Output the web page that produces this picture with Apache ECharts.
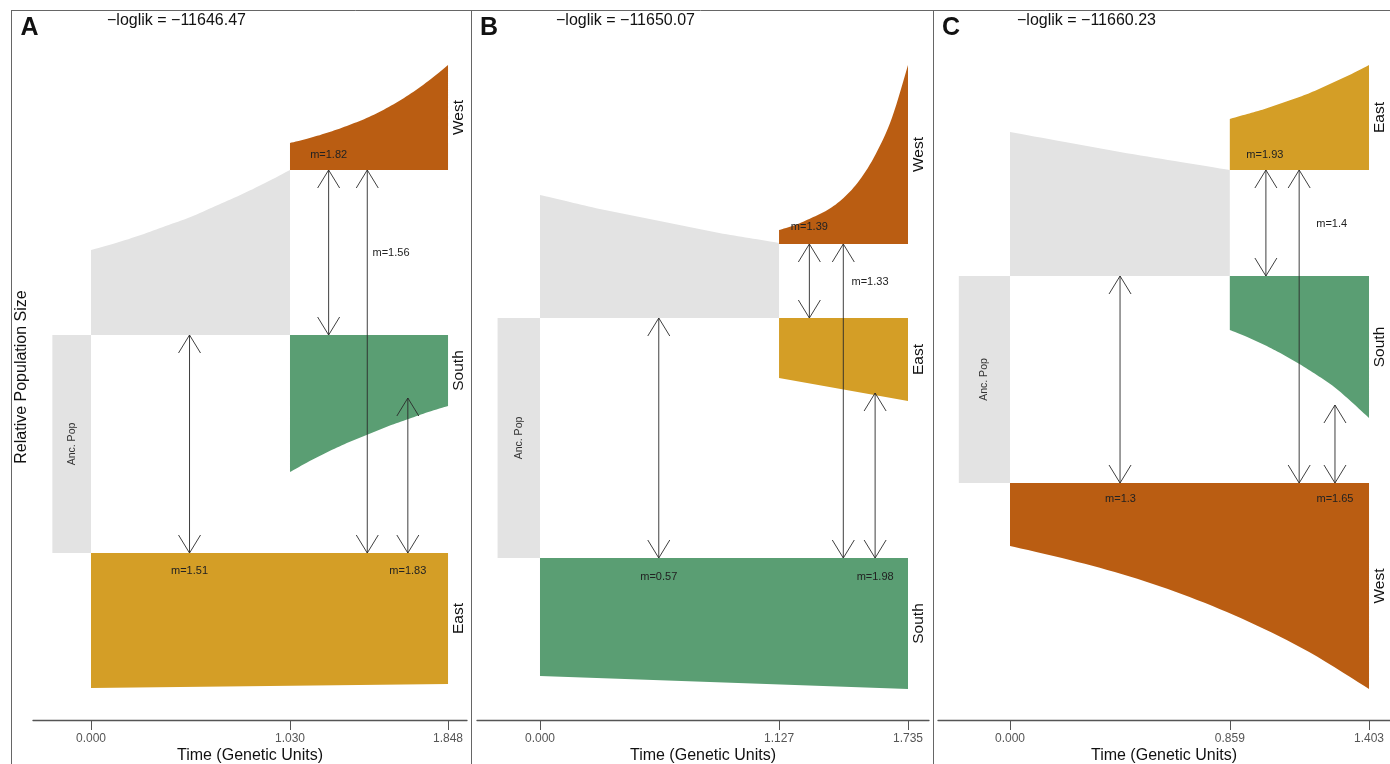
<!DOCTYPE html>
<html>
<head>
<meta charset="utf-8">
<script src="https://cdn.jsdelivr.net/npm/echarts@6/dist/echarts.min.js"></script>
<style>
html,body{margin:0;padding:0;background:#fff;}
#chart{width:1390px;height:764px;}
</style>
</head>
<body>
<div id="chart"></div>
<script>
// ---------------- DATA (time in genetic units, y in relative population size) ----------------
// each population: rows of [time, lower edge, upper edge]
const panelLetters = ['A', 'B', 'C'];
const logliks = [-11646.47, -11650.07, -11660.23];

const A_ticks = [0, 1.030, 1.848];
const B_ticks = [0, 1.127, 1.735];
const C_ticks = [0, 0.859, 1.403];

// Panel A
const A_names = ['Anc. Pop', '', 'West', 'South', 'East'];
const A_ancPop = [[-0.2, 1.67, 3.85], [0, 1.67, 3.85]];
const A_ancestral = [[0, 3.85, 4.70], [0.129, 3.85, 4.77], [0.258, 3.85, 4.85], [0.386, 3.85, 4.94], [0.515, 3.85, 5.03], [0.644, 3.85, 5.14], [0.773, 3.85, 5.25], [0.901, 3.85, 5.37], [1.030, 3.85, 5.50]];
const A_west = [[1.030, 5.50, 5.77], [1.132, 5.50, 5.82], [1.235, 5.50, 5.88], [1.337, 5.50, 5.95], [1.439, 5.50, 6.03], [1.541, 5.50, 6.13], [1.644, 5.50, 6.25], [1.746, 5.50, 6.39], [1.848, 5.50, 6.55]];
const A_south = [[1.030, 2.48, 3.85], [1.132, 2.59, 3.85], [1.235, 2.69, 3.85], [1.337, 2.78, 3.85], [1.439, 2.86, 3.85], [1.541, 2.94, 3.85], [1.644, 3.01, 3.85], [1.746, 3.08, 3.85], [1.848, 3.14, 3.85]];
const A_east = [[0, 0.32, 1.67], [1.848, 0.36, 1.67]];
// migration: [time, from, to, m]
const A_mig = [[0.51, 3.85, 1.67, 1.51], [1.23, 5.50, 3.85, 1.82], [1.43, 5.50, 1.67, 1.56], [1.64, 3.22, 1.67, 1.83]];
const A_migLabel = [[0.51, 1.49], [1.23, 5.65], [1.553, 4.67], [1.64, 1.49]];

// Panel B
const B_names = ['Anc. Pop', '', 'West', 'East', 'South'];
const B_ancPop = [[-0.2, 1.62, 4.02], [0, 1.62, 4.02]];
const B_ancestral = [[0, 4.02, 5.25], [0.141, 4.02, 5.18], [0.282, 4.02, 5.11], [0.423, 4.02, 5.05], [0.564, 4.02, 4.99], [0.704, 4.02, 4.93], [0.845, 4.02, 4.87], [0.986, 4.02, 4.82], [1.127, 4.02, 4.77]];
const B_west = [[1.127, 4.76, 4.90], [1.203, 4.76, 4.95], [1.279, 4.76, 5.02], [1.355, 4.76, 5.10], [1.431, 4.76, 5.22], [1.507, 4.76, 5.40], [1.583, 4.76, 5.66], [1.659, 4.76, 6.02], [1.735, 4.76, 6.55]];
const B_east = [[1.127, 3.42, 4.02], [1.735, 3.19, 4.02]];
const B_south = [[0, 0.44, 1.62], [1.735, 0.31, 1.62]];
const B_mig = [[1.27, 4.76, 4.02, 1.39], [1.43, 4.76, 1.62, 1.33], [0.56, 4.02, 1.62, 0.57], [1.58, 3.27, 1.62, 1.98]];
const B_migLabel = [[1.27, 4.93], [1.556, 4.38], [0.56, 1.43], [1.58, 1.43]];

// Panel C
const C_names = ['Anc. Pop', '', 'East', 'South', 'West'];
const C_ancPop = [[-0.2, 2.37, 4.44], [0, 2.37, 4.44]];
const C_ancestral = [[0, 4.44, 5.88], [0.215, 4.44, 5.78], [0.430, 4.44, 5.68], [0.644, 4.44, 5.59], [0.859, 4.44, 5.50]];
const C_east = [[0.859, 5.50, 6.01], [0.927, 5.50, 6.06], [0.995, 5.50, 6.11], [1.063, 5.50, 6.17], [1.131, 5.50, 6.23], [1.199, 5.50, 6.30], [1.267, 5.50, 6.38], [1.335, 5.50, 6.46], [1.403, 5.50, 6.55]];
const C_south = [[0.859, 3.90, 4.44], [0.927, 3.83, 4.44], [0.995, 3.75, 4.44], [1.063, 3.66, 4.44], [1.131, 3.56, 4.44], [1.199, 3.45, 4.44], [1.267, 3.33, 4.44], [1.335, 3.18, 4.44], [1.403, 3.02, 4.44]];
const C_west = [[0, 1.74, 2.37], [0.234, 1.60, 2.37], [0.468, 1.435, 2.37], [0.702, 1.23, 2.37], [0.935, 0.98, 2.37], [1.169, 0.68, 2.37], [1.403, 0.31, 2.37]];
const C_mig = [[1.00, 5.50, 4.44, 1.93], [1.13, 5.50, 2.37, 1.4], [0.43, 4.44, 2.37, 1.3], [1.27, 3.15, 2.37, 1.65]];
const C_migLabel = [[0.996, 5.65], [1.257, 4.96], [0.432, 2.21], [1.27, 2.21]];

// ---------------- LAYOUT / STYLE ----------------
const FONT = '"Liberation Sans", Arial, Helvetica, sans-serif';
const colorOf = { 'West': '#BA5D12', 'East': '#D49E26', 'South': '#5A9E73', 'Anc. Pop': '#E3E3E3', '': '#E3E3E3' };

const panels = [
  { pops: [A_ancPop, A_ancestral, A_west, A_south, A_east], names: A_names, mig: A_mig, migLabel: A_migLabel, ticks: A_ticks,
    grid: { left: 33, width: 434 }, xmin: -0.3002, xmax: 1.9462 },
  { pops: [B_ancPop, B_ancestral, B_west, B_east, B_south], names: B_names, mig: B_mig, migLabel: B_migLabel, ticks: B_ticks,
    grid: { left: 477, width: 452 }, xmin: -0.297, xmax: 1.834 },
  { pops: [C_ancPop, C_ancestral, C_east, C_south, C_west], names: C_names, mig: C_mig, migLabel: C_migLabel, ticks: C_ticks,
    grid: { left: 938, width: 452 }, xmin: -0.2814, xmax: 1.485 }
];

// Catmull-Rom smoothing of an edge (pixel space, rendering only)
function smoothEdge(pts) {
  if (pts.length < 3) return pts.slice();
  const out = [];
  const n = pts.length;
  for (let i = 0; i < n - 1; i++) {
    const p0 = pts[Math.max(i - 1, 0)], p1 = pts[i], p2 = pts[i + 1], p3 = pts[Math.min(i + 2, n - 1)];
    const steps = 8;
    for (let s = 0; s < steps; s++) {
      const t = s / steps, t2 = t * t, t3 = t2 * t;
      out.push([0, 1].map(k => 0.5 * ((2 * p1[k]) + (-p0[k] + p2[k]) * t +
        (2 * p0[k] - 5 * p1[k] + 4 * p2[k] - p3[k]) * t2 + (-p0[k] + 3 * p1[k] - 3 * p2[k] + p3[k]) * t3)));
    }
  }
  out.push(pts[n - 1]);
  return out;
}

function arrowHead(tip, from, len, hw) {
  const dx = tip[0] - from[0], dy = tip[1] - from[1];
  const L = Math.hypot(dx, dy) || 1;
  const ux = dx / L, uy = dy / L, nx = -uy, ny = ux;
  return [[tip[0] - ux * len + nx * hw, tip[1] - uy * len + ny * hw], tip,
          [tip[0] - ux * len - nx * hw, tip[1] - uy * len - ny * hw]];
}

const grids = [], xAxes = [], yAxes = [], series = [];
panels.forEach((p, i) => {
  grids.push({ left: p.grid.left, width: p.grid.width, top: 10, height: 710, containLabel: false, outerBoundsMode: 'none' });
  xAxes.push({
    gridIndex: i, type: 'value', min: p.xmin, max: p.xmax,
    axisLine: { onZero: false, lineStyle: { color: '#555', width: 1.3 } },
    axisTick: { customValues: p.ticks, length: 10, lineStyle: { color: '#555', width: 1 } },
    axisLabel: { customValues: p.ticks, formatter: v => Number(v).toFixed(3), color: '#555', fontSize: 12, margin: 13, fontFamily: FONT },
    splitLine: { show: false },
    name: 'Time (Genetic Units)', nameLocation: 'middle', nameGap: 28, nameMoveOverlap: false,
    nameTextStyle: { fontSize: 16, color: '#111', fontFamily: FONT }
  });
  yAxes.push({ gridIndex: i, type: 'value', min: 0, max: 7.1, show: false });

  series.push({
    type: 'custom', xAxisIndex: i, yAxisIndex: i, silent: true,
    data: p.pops.map(rows => [rows[0][0], rows[0][1]]),
    renderItem: function (params, api) {
      const rows = p.pops[params.dataIndex];
      const name = p.names[params.dataIndex];
      const top = smoothEdge(rows.map(r => api.coord([r[0], r[2]])));
      const bot = smoothEdge(rows.map(r => api.coord([r[0], r[1]])));
      const pts = top.concat(bot.reverse());
      const children = [{ type: 'polygon', shape: { points: pts }, style: { fill: colorOf[name] } }];
      const last = rows[rows.length - 1], first = rows[0];
      if (name === 'Anc. Pop') {
        const c = api.coord([(first[0] + last[0]) / 2, (first[1] + first[2]) / 2]);
        children.push({ type: 'text', x: c[0], y: c[1], rotation: Math.PI / 2,
          style: { text: name, fill: '#333', font: '10.5px ' + FONT, align: 'center', verticalAlign: 'middle' } });
      } else if (name) {
        const c = api.coord([last[0], (last[1] + last[2]) / 2]);
        children.push({ type: 'text', x: c[0] + 11, y: c[1], rotation: Math.PI / 2,
          style: { text: name, fill: '#111', font: '15.5px ' + FONT, align: 'center', verticalAlign: 'middle' } });
      }
      return { type: 'group', children };
    }
  });

  series.push({
    type: 'custom', xAxisIndex: i, yAxisIndex: i, silent: true, z: 5,
    data: p.mig.map(m => [m[0], m[1]]),
    renderItem: function (params, api) {
      const m = p.mig[params.dataIndex];
      const lab = p.migLabel[params.dataIndex];
      const a = api.coord([m[0], m[1]]), b = api.coord([m[0], m[2]]);
      const st = { stroke: '#2a2a2a', lineWidth: 1, fill: null, opacity: 0.9 };
      const lp = api.coord([lab[0], lab[1]]);
      return { type: 'group', children: [
        { type: 'line', shape: { x1: a[0], y1: a[1], x2: b[0], y2: b[1] }, style: st },
        { type: 'polyline', shape: { points: arrowHead(a, b, 18, 11) }, style: st },
        { type: 'polyline', shape: { points: arrowHead(b, a, 18, 11) }, style: st },
        { type: 'text', x: lp[0], y: lp[1],
          style: { text: 'm=' + m[3], fill: '#222', font: '11px ' + FONT, align: 'center', verticalAlign: 'middle' } }
      ] };
    }
  });
});

const letterX = [29.5, 489, 951];
const loglikX = [107, 556, 1017];
const graphics = [
  { type: 'line', shape: { x1: 11, y1: 10.5, x2: 1390, y2: 10.5 }, style: { stroke: '#666', lineWidth: 1 } },
  { type: 'line', shape: { x1: 11.5, y1: 10, x2: 11.5, y2: 764 }, style: { stroke: '#666', lineWidth: 1 } },
  { type: 'line', shape: { x1: 471.5, y1: 10, x2: 471.5, y2: 764 }, style: { stroke: '#666', lineWidth: 1 } },
  { type: 'line', shape: { x1: 933.5, y1: 10, x2: 933.5, y2: 764 }, style: { stroke: '#666', lineWidth: 1 } },
  { type: 'text', x: 22, y: 377, rotation: Math.PI / 2,
    style: { text: 'Relative Population Size', fill: '#111', font: '16px ' + FONT, textAlign: 'center', textVerticalAlign: 'middle', align: 'center', verticalAlign: 'middle' } }
];
panelLetters.forEach((L, i) => {
  graphics.push({ type: 'text', x: letterX[i], y: 28,
    style: { text: L, fill: '#111', fontFamily: 'Liberation Sans', fontWeight: 'bold', fontSize: 25, textAlign: 'center', textVerticalAlign: 'middle', align: 'center', verticalAlign: 'middle' } });
  graphics.push({ type: 'text', x: loglikX[i], y: 21,
    style: { text: '\u2212loglik = \u2212' + Math.abs(logliks[i]).toFixed(2), fill: '#111', font: '16px ' + FONT, textAlign: 'left', textVerticalAlign: 'middle', align: 'left', verticalAlign: 'middle' } });
});

const chart = echarts.init(document.getElementById('chart'), null, { renderer: 'canvas' });
chart.setOption({
  animation: false,
  backgroundColor: '#fff',
  grid: grids, xAxis: xAxes, yAxis: yAxes, series: series,
  graphic: { elements: graphics }
});
</script>
</body>
</html>
